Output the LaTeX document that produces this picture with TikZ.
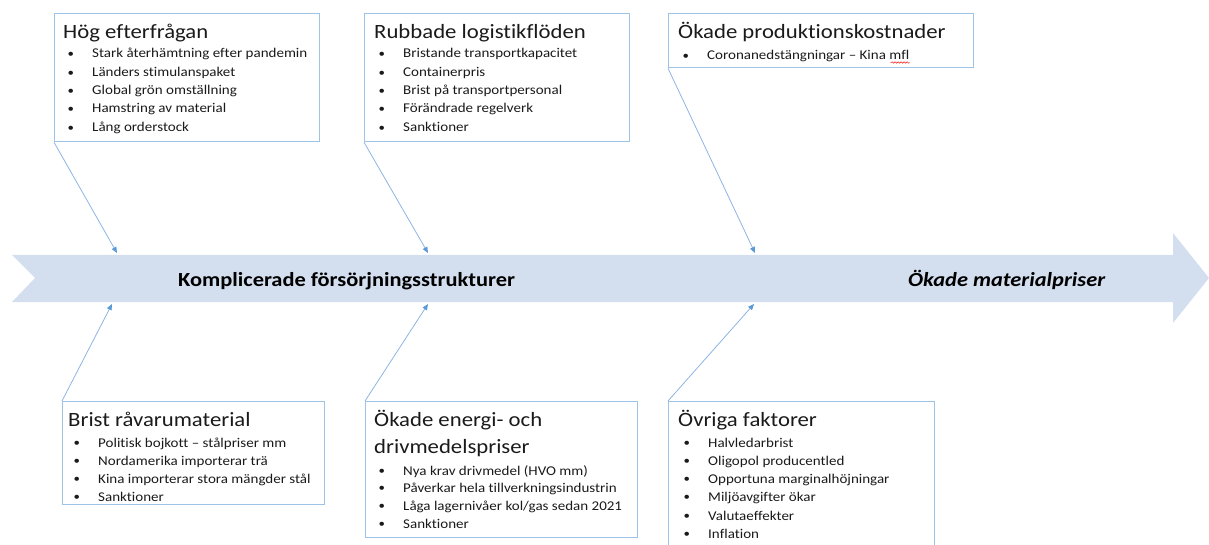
\documentclass[tikz,border=0pt]{standalone}
\usepackage{fontspec}
\setmainfont{Carlito}[FakeStretch=1.12, Ligatures=NoCommon]
\usetikzlibrary{arrows.meta,decorations.pathmorphing}
\definecolor{boxline}{HTML}{9DC3E6}
\definecolor{conline}{HTML}{8DB4E2}
\definecolor{contip}{HTML}{5B9BD5}
\definecolor{spinefill}{HTML}{D3DEEF}
\definecolor{txt}{HTML}{1A1A1A}
\tikzset{
  catbox/.style={draw=boxline, line width=1.3pt, rectangle, anchor=north west, inner sep=0pt},
  ttl/.style={anchor=base west, inner sep=0pt, text=txt, font=\fontsize{20.3}{24}\selectfont},
  itm/.style={anchor=base west, inner sep=0pt, text=txt, font=\fontsize{13.4}{15}\selectfont},
  bul/.style={anchor=base west, inner sep=0pt, text=txt, font=\fontsize{11.5}{15}\selectfont},
  conn/.style={draw=conline, line width=0.8pt, -{Triangle[length=6pt,width=5pt,fill=contip,color=contip]}},
  spinetxt/.style={anchor=base west, inner sep=0pt, font=\fontsize{20}{22}\selectfont\bfseries}
}
\newcommand{\bitem}[4]{%
  \node[bul] (#1b) at (#2-24.5,#3-0.5) {•};
  \node[itm] (#1) at (#2,#3) {#4};}
\begin{document}
\begin{tikzpicture}[x=1pt,y=-1pt]
\useasboundingbox (0,0) rectangle (1209,545);
% spine
\fill[spinefill] (12,255) -- (1173,255) -- (1173,233) -- (1209,278) -- (1173,323) -- (1173,302) -- (12,302) -- (35,278) -- cycle;
\coordinate (t1) at (117,253);
\coordinate (t2) at (428,253);
\coordinate (t3) at (755,253);
\coordinate (s1) at (112,304);
\coordinate (s2) at (428,304);
\coordinate (s3) at (754,304);
\node[spinetxt] (sp1) at (178,286) {Komplicerade försörjningsstrukturer};
\node[spinetxt,font=\fontsize{20}{22}\selectfont\bfseries\itshape] (sp2) at (908,286) {Ökade materialpriser};

% box 1
\node[catbox, minimum width=265pt, minimum height=128pt] (b1) at (54,13) {};
\node[ttl] (b1t) at (63,39) {Hög efterfrågan};
\bitem{b1i1}{92}{58}{Stark återhämtning efter pandemin}
\bitem{b1i2}{92}{77}{Länders stimulanspaket}
\bitem{b1i3}{92}{95}{Global grön omställning}
\bitem{b1i4}{92}{113}{Hamstring av material}
\bitem{b1i5}{92}{132}{Lång orderstock}

% box 2
\node[catbox, minimum width=265pt, minimum height=128pt] (b2) at (364,13) {};
\node[ttl] (b2t) at (374,39) {Rubbade logistikflöden};
\bitem{b2i1}{403}{58}{Bristande transportkapacitet}
\bitem{b2i2}{403}{77}{Containerpris}
\bitem{b2i3}{403}{95}{Brist på transportpersonal}
\bitem{b2i4}{403}{113}{Förändrade regelverk}
\bitem{b2i5}{403}{132}{Sanktioner}

% box 3
\node[catbox, minimum width=305pt, minimum height=54pt] (b3) at (668,13) {};
\node[ttl] (b3t) at (678,39) {Ökade produktionskostnader};
\bitem{b3i1}{707}{60}{Coronanedstängningar – Kina mfl}
\draw[red!80, line width=0.6pt, decorate, decoration={snake, amplitude=0.7pt, segment length=3pt}] ([yshift=-2.5pt]b3i1.base east) -- ++(-19,0);

% box 4
\node[catbox, minimum width=262pt, minimum height=103pt] (b4) at (62,401) {};
\node[ttl] (b4t) at (68,426) {Brist råvarumaterial};
\bitem{b4i1}{98}{447}{Politisk bojkott – stålpriser mm}
\bitem{b4i2}{98}{465}{Nordamerika importerar trä}
\bitem{b4i3}{98}{483}{Kina importerar stora mängder stål}
\bitem{b4i4}{98}{501}{Sanktioner}

% box 5
\node[catbox, minimum width=272pt, minimum height=136pt] (b5) at (365,401) {};
\node[ttl] (b5t) at (374,426) {Ökade energi- och};
\node[ttl] (b5t2) at (374,453) {drivmedelspriser};
\bitem{b5i1}{403}{475}{Nya krav drivmedel (HVO mm)}
\bitem{b5i2}{403}{492}{Påverkar hela tillverkningsindustrin}
\bitem{b5i3}{403}{510}{Låga lagernivåer kol/gas sedan 2021}
\bitem{b5i4}{403}{528}{Sanktioner}

% box 6
\node[catbox, minimum width=266pt, minimum height=160pt] (b6) at (668,401) {};
\node[ttl] (b6t) at (678,426) {Övriga faktorer};
\bitem{b6i1}{708}{447}{Halvledarbrist}
\bitem{b6i2}{708}{465}{Oligopol producentled}
\bitem{b6i3}{708}{483}{Opportuna marginalhöjningar}
\bitem{b6i4}{708}{501}{Miljöavgifter ökar}
\bitem{b6i5}{708}{520}{Valutaeffekter}
\bitem{b6i6}{708}{538}{Inflation}

% connectors
\draw[conn] (b1.south west) -- (t1);
\draw[conn] (b2.south west) -- (t2);
\draw[conn] (b3.south west) -- (t3);
\draw[conn] (b4.north west) -- (s1);
\draw[conn] (b5.north west) -- (s2);
\draw[conn] (b6.north west) -- (s3);
\end{tikzpicture}
\end{document}
